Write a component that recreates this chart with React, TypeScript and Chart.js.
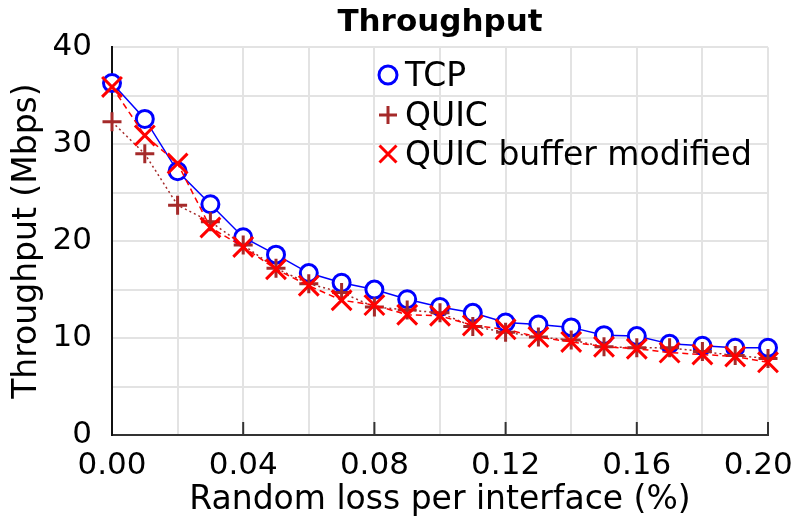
import React, { useEffect, useRef } from "react";
import { Chart, registerables } from "chart.js";

Chart.register(...registerables);

const lossValues = [0, 0.01, 0.02, 0.03, 0.04, 0.05, 0.06, 0.07, 0.08, 0.09, 0.1, 0.11, 0.12, 0.13, 0.14, 0.15, 0.16, 0.17, 0.18, 0.19, 0.2];
const tcpValues = [36.3, 32.6, 27.2, 23.8, 20.4, 18.6, 16.7, 15.7, 15.0, 14.0, 13.2, 12.6, 11.6, 11.4, 11.1, 10.3, 10.2, 9.4, 9.2, 9.0, 9.0];
const quicValues = [32.3, 29.0, 23.7, 22.0, 19.6, 17.2, 15.6, 14.7, 13.2, 12.9, 12.6, 11.2, 10.6, 10.1, 9.8, 9.1, 9.0, 9.0, 8.6, 8.2, 7.9];
const quicModValues = [35.9, 30.9, 28.0, 21.4, 19.4, 17.1, 15.4, 13.9, 13.4, 12.4, 12.3, 11.3, 10.9, 10.1, 9.6, 9.1, 8.9, 8.5, 8.3, 8.1, 7.5];
const seriesLabels = ["TCP", "QUIC", "QUIC buffer modified"];
const xLabeledTicks = [0, 0.04, 0.08, 0.12, 0.16, 0.2];
const yLabeledTicks = [0, 10, 20, 30, 40];

const BLUE = "#0000ff";
const BROWN = "#a52a2a";
const RED = "#ff0000";
const FONT = "DejaVu Sans";

function drawMarker(ctx: CanvasRenderingContext2D, style: string, x: number, y: number, r: number, color: string) {
  ctx.save();
  ctx.strokeStyle = color;
  ctx.lineWidth = 3;
  ctx.beginPath();
  if (style === "circle") {
    ctx.fillStyle = "#fff";
    ctx.arc(x, y, r, 0, Math.PI * 2);
    ctx.fill();
    ctx.stroke();
  } else if (style === "cross") {
    ctx.moveTo(x, y - r);
    ctx.lineTo(x, y + r);
    ctx.moveTo(x - r, y);
    ctx.lineTo(x + r, y);
    ctx.stroke();
  } else {
    const d = r * Math.SQRT1_2;
    ctx.moveTo(x - d, y - d);
    ctx.lineTo(x + d, y + d);
    ctx.moveTo(x - d, y + d);
    ctx.lineTo(x + d, y - d);
    ctx.stroke();
  }
  ctx.restore();
}

const extrasPlugin = {
  id: "extras",
  beforeDatasetsDraw(chart: any) {
    const ctx = chart.ctx as CanvasRenderingContext2D;
    const xs = chart.scales.x;
    const bottom = chart.chartArea.bottom;
    ctx.save();
    ctx.strokeStyle = "#333";
    ctx.lineWidth = 2;
    xLabeledTicks.forEach((v) => {
      if (v === 0) return;
      const px = xs.getPixelForValue(v);
      ctx.beginPath();
      ctx.moveTo(px, bottom);
      ctx.lineTo(px, bottom - 13);
      ctx.stroke();
    });
    ctx.restore();
  },
  afterDraw(chart: any) {
    const ctx = chart.ctx as CanvasRenderingContext2D;
    const baselines = [86, 126, 165];
    const markerX = 388;
    const textX = 405;
    ctx.save();
    ctx.font = `33px "${FONT}"`;
    ctx.fillStyle = "#000";
    ctx.textBaseline = "alphabetic";
    ctx.textAlign = "left";
    chart.data.datasets.forEach((ds: any, i: number) => {
      const b = baselines[i];
      const cy = b - 11;
      const r = ds.pointStyle === "circle" ? 9 : ds.pointStyle === "cross" ? 9 : 12;
      drawMarker(ctx, ds.pointStyle, markerX, cy, r, ds.pointBorderColor);
      ctx.fillText(ds.label, textX, b);
    });
    ctx.restore();
  },
};

export default function App() {
  const canvasRef = useRef<HTMLCanvasElement | null>(null);

  useEffect(() => {
    document.body.style.margin = "0";
    const canvas = canvasRef.current;
    if (!canvas) return;
    Chart.defaults.font.family = FONT;
    Chart.defaults.color = "#000";
    const toPoints = (vals: number[]) => lossValues.map((x, i) => ({ x, y: vals[i] }));

    const chart = new Chart(canvas, {
      type: "line",
      data: {
        datasets: [
          {
            label: seriesLabels[0],
            data: toPoints(tcpValues),
            borderColor: BLUE,
            borderWidth: 1.5,
            pointStyle: "circle",
            pointRadius: 8.5,
            pointBorderWidth: 3,
            pointBorderColor: BLUE,
            pointBackgroundColor: "#fff",
            order: 3,
            clip: false,
          } as any,
          {
            label: seriesLabels[1],
            data: toPoints(quicValues),
            borderColor: BROWN,
            borderWidth: 1.5,
            borderDash: [2, 3],
            pointStyle: "cross",
            pointRadius: 9.5,
            pointBorderWidth: 3,
            pointBorderColor: BROWN,
            pointBackgroundColor: BROWN,
            order: 2,
            clip: false,
          } as any,
          {
            label: seriesLabels[2],
            data: toPoints(quicModValues),
            borderColor: RED,
            borderWidth: 1.5,
            borderDash: [6, 4],
            pointStyle: "crossRot",
            pointRadius: 14,
            pointBorderWidth: 3,
            pointBorderColor: RED,
            pointBackgroundColor: RED,
            order: 1,
            clip: false,
          } as any,
        ],
      },
      options: {
        responsive: false,
        animation: false,
        layout: { padding: { left: 0, right: 28, top: 0, bottom: 0 } },
        plugins: {
          legend: { display: false },
          tooltip: { enabled: false },
          title: {
            display: true,
            text: "Throughput",
            fullSize: false,
            color: "#000",
            font: { family: FONT, size: 31, weight: "bold" },
            padding: { top: 4, bottom: 6 },
          },
        },
        scales: {
          x: {
            type: "linear",
            min: 0,
            max: 0.2,
            afterFit(scale: any) {
              scale.height = 87;
              scale.paddingLeft = 0;
              scale.paddingRight = 0;
            },
            ticks: {
              stepSize: 0.02,
              autoSkip: false,
              maxRotation: 0,
              padding: 12,
              color: "#000",
              font: { family: FONT, size: 31 },
              callback(value: any) {
                const v = Number(value);
                const hit = xLabeledTicks.some((t) => Math.abs(t - v) < 1e-6);
                if (!hit) return "";
                // last label is nudged left to stay inside the canvas, as in the reference
                return Math.abs(v - 0.2) < 1e-6 ? v.toFixed(2) + "  " : v.toFixed(2);
              },
            },
            grid: { color: "#e3e3e3", lineWidth: 2, drawTicks: false },
            border: { color: "#333", width: 2 },
            title: {
              display: true,
              text: "Random loss per interface (%)",
              color: "#000",
              font: { family: FONT, size: 33 },
              padding: { top: 0, bottom: 2 },
            },
          },
          y: {
            type: "linear",
            min: 0,
            max: 40,
            afterFit(scale: any) {
              scale.width = 112;
              scale.paddingTop = 0;
              scale.paddingBottom = 0;
            },
            ticks: {
              stepSize: 5,
              autoSkip: false,
              padding: 20,
              color: "#000",
              font: { family: FONT, size: 31 },
              callback(value: any) {
                const v = Number(value);
                return yLabeledTicks.includes(v) ? String(v) : "";
              },
            },
            grid: { color: "#e3e3e3", lineWidth: 2, drawTicks: false },
            border: { color: "#111", width: 2 },
            title: {
              display: true,
              text: "Throughput (Mbps)",
              color: "#000",
              font: { family: FONT, size: 33 },
              padding: { top: 8, bottom: 0 },
            },
          },
        },
      } as any,
      plugins: [extrasPlugin],
    });
    return () => chart.destroy();
  }, []);

  return <canvas ref={canvasRef} width={796} height={522} style={{ display: "block" }} />;
}
